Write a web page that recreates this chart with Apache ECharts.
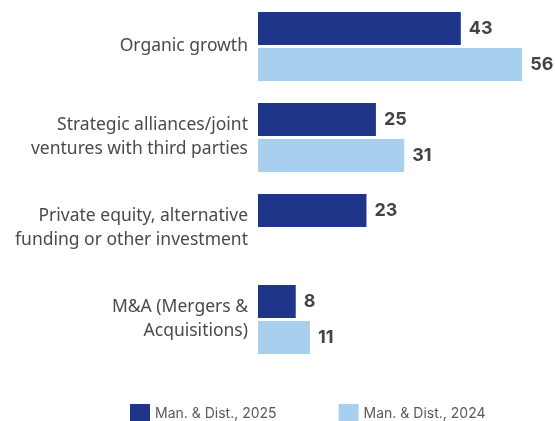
<!DOCTYPE html>
<html>
<head>
<meta charset="utf-8">
<script src="https://cdn.jsdelivr.net/npm/echarts@6/dist/echarts.min.js"></script>
<style>
  html, body { margin: 0; padding: 0; background: #fff; }
  #main { width: 555px; height: 421px; }
</style>
</head>
<body>
<div id="main"></div>
<script>
// 分类和数据
const categories = [
  'Organic growth',
  'Strategic alliances/joint\nventures with third parties',
  'Private equity, alternative\nfunding or other investment',
  'M&A (Mergers &\nAcquisitions)'
]
const values2025 = [43, 25, 23, 8]
const values2024 = [56, 31, 0, 11]
const seriesNames = ['Man. & Dist., 2025', 'Man. & Dist., 2024']

const myChart = echarts.init(document.getElementById('main'))

const valueLabel = {
  show: true,
  position: 'right',
  distance: 8,
  fontFamily: 'Inter',
  fontWeight: 'bold',
  fontSize: 18,
  color: '#444',
  formatter: function (p) {
    return p.value ? p.value : ''
  }
}

const option = {
  animation: false,
  textStyle: { fontFamily: 'Noto Sans' },
  grid: {
    left: 258,
    right: 14,
    top: 1,
    bottom: 56
  },
  legend: {
    data: seriesNames,
    left: 125,
    top: 399,
    itemWidth: 20,
    itemHeight: 20,
    itemGap: 62,
    icon: 'rect',
    textStyle: {
      fontFamily: 'Inter',
      fontSize: 14,
      color: '#5a5a5a'
    }
  },
  xAxis: {
    type: 'value',
    min: 0,
    max: 60,
    show: false
  },
  yAxis: {
    type: 'category',
    inverse: true,
    data: categories,
    axisLine: { show: false },
    axisTick: { show: false },
    axisLabel: {
      margin: 10,
      fontFamily: 'Noto Sans',
      fontSize: 17.5,
      lineHeight: 24,
      color: '#4a4a4a',
      align: 'right'
    }
  },
  series: [
    {
      name: seriesNames[0],
      type: 'bar',
      data: values2025,
      barCategoryGap: '24%',
      barGap: '9%',
      itemStyle: { color: '#1f358a' },
      label: valueLabel
    },
    {
      name: seriesNames[1],
      type: 'bar',
      data: values2024,
      itemStyle: { color: '#a8d0ee' },
      label: valueLabel
    }
  ]
}

myChart.setOption(option)
</script>
</body>
</html>
